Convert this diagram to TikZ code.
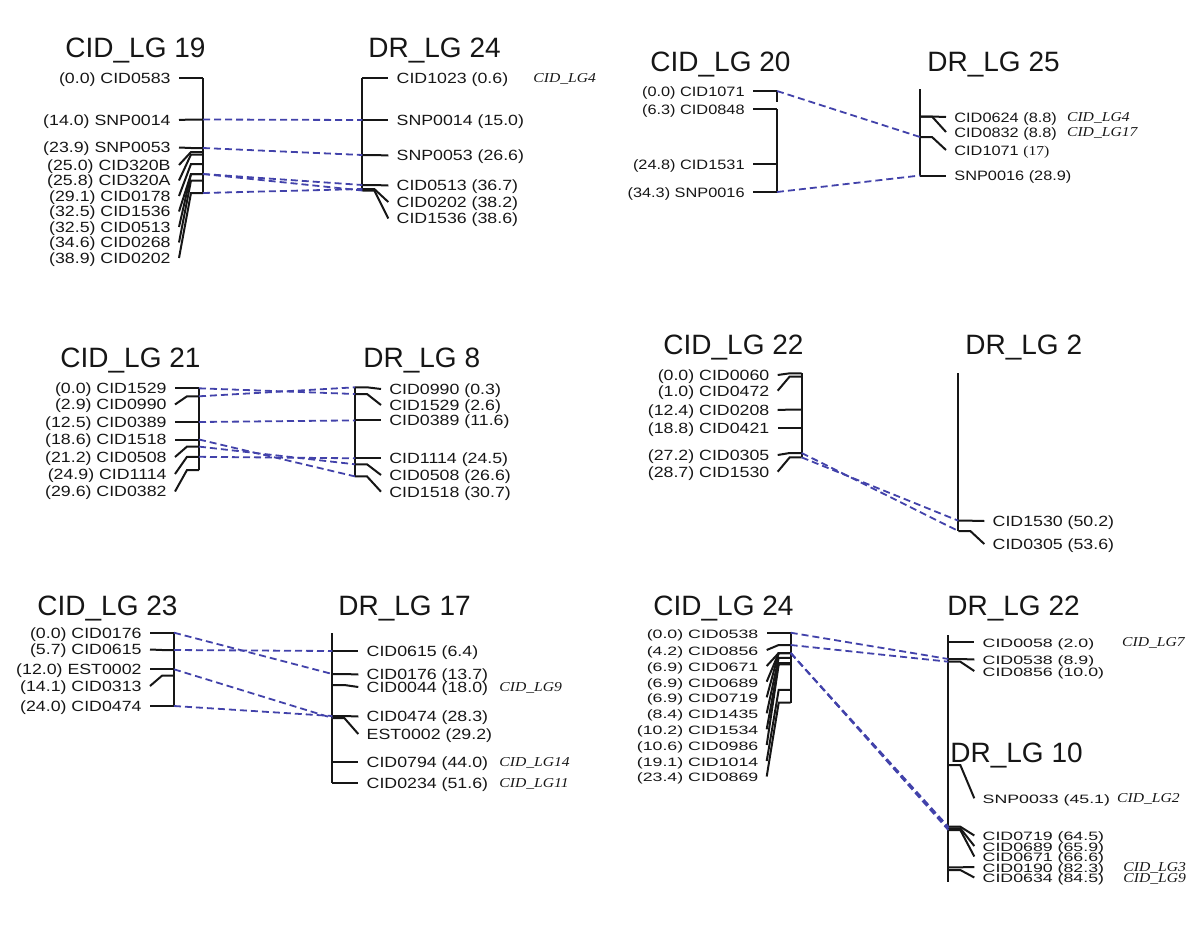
\documentclass[tikz,border=0pt]{standalone}
\usepackage{graphicx}
\usepackage{fontspec}
\setmainfont{Liberation Sans}
\newfontfamily\lblfont{Liberation Sans}[FakeStretch=1.2]
\newfontfamily\notefont{Liberation Serif}[FakeStretch=1.15]
\usetikzlibrary{positioning}
\definecolor{lnkblue}{RGB}{66,66,170}
\definecolor{inkgray}{HTML}{161616}

\tikzset{
  chr/.style={line width=1pt, inkgray},
  lnk/.style={line width=0.9pt, lnkblue, dash pattern=on 3.5pt off 2pt},
  lbl/.style={font=\lblfont\fontsize{7.4}{8}\selectfont, text=inkgray,
    inner xsep=4pt, inner ysep=0pt, text height=5.3pt, text depth=0pt},
  note/.style={font=\notefont\itshape\fontsize{6.8}{8}\selectfont, text=inkgray,
    inner sep=0pt, text height=4.5pt, text depth=0pt, anchor=west},
  ttl/.style={font=\fontsize{14}{16}\selectfont, text=inkgray, inner sep=0pt, anchor=base west}
}

\newcommand\lblbox[1]{#1}
\newcommand\leftmarks[3]{%
  \foreach \m/\p/\t/\l in {#3}{
    \coordinate (#1-\m) at (#2,\t);
    \node[lbl, anchor=east] (#1-\m-n) at ({#2-24},\l) {\lblbox{\p\ \m}};
    \draw[chr] (#1-\m) -- ++(-12,0) -- (#1-\m-n.east);
  }}
\newcommand\rightmarks[3]{%
  \foreach \m/\p/\t/\l in {#3}{
    \coordinate (#1-\m) at (#2,\t);
    \node[lbl, anchor=west] (#1-\m-n) at ({#2+26},\l) {\lblbox{\m\ \p}};
    \draw[chr] (#1-\m) -- ++(12,0) -- (#1-\m-n.west);
  }}

\begin{document}
\begin{tikzpicture}[x=0.5pt, y=-0.5pt]
    \useasboundingbox (0,0) rectangle (1200,932);

    \node[ttl] (t-g19) at (65,57) {CID\_LG 19};
    \node[ttl] (t-d24) at (368,57) {DR\_LG 24};
    \draw[chr] (203,78) -- (203,193);
    \draw[chr] (362.3,77.7) -- (362.3,190.5);
    \leftmarks{g19}{203}{CID0583/(0.0)/78/78, SNP0014/(14.0)/119.5/120,
      SNP0053/(23.9)/148/147.5, CID320B/(25.0)/152/165, CID320A/(25.8)/154.5/180.5,
      CID0178/(29.1)/164/196, CID1536/(32.5)/174/211.5, CID0513/(32.5)/174/227,
      CID0268/(34.6)/180.5/242.5, CID0202/(38.9)/193/258}
    \rightmarks{d24}{362.3}{CID1023/(0.6)/77.7/77.7, SNP0014/(15.0)/120/120,
      SNP0053/(26.6)/155/155.5, CID0513/(36.7)/185/185.5, CID0202/(38.2)/189/202,
      CID1536/(38.6)/190.5/218.5}
    \node[note] (n-d24a) at (533,77.7) {CID\_LG4};
    \foreach \m in {SNP0014,SNP0053,CID0513,CID0202,CID1536}
      \draw[lnk] (g19-\m) -- (d24-\m);

    \begin{scope}[lbl/.append style={font=\lblfont\fontsize{6.8}{8}\selectfont}]
    \node[ttl] (t-g20) at (650,71) {CID\_LG 20};
    \node[ttl] (t-d25) at (927,71) {DR\_LG 25};
    \draw[chr] (777,91) -- (777,102);
    \draw[chr] (777,109) -- (777,192);
    \draw[chr] (920,89) -- (920,175.5);
    \leftmarks{g20}{777}{CID1071/(0.0)/91/91, CID0848/(6.3)/109/109,
      CID1531/(24.8)/164/164, SNP0016/(34.3)/192/192}
    \rightmarks{d25}{920}{CID0624/(8.8)/116.5/117, CID0832/(8.8)/116.5/132,
      CID1071/{\notefont(17)}/137/150, SNP0016/(28.9)/175.5/175.5}
    \node[note] (n-d25a) at (1066.7,117) {CID\_LG4};
    \node[note] (n-d25b) at (1066.7,132) {CID\_LG17};
    \foreach \m in {CID1071,SNP0016}
      \draw[lnk] (g20-\m) -- (d25-\m);
    \end{scope}

    \node[ttl] (t-g21) at (60,367) {CID\_LG 21};
    \node[ttl] (t-d8) at (363,367) {DR\_LG 8};
    \draw[chr] (199,388.3) -- (199,470);
    \draw[chr] (355,386.7) -- (355,476.4);
    \leftmarks{g21}{199}{CID1529/(0.0)/388.3/388.3, CID0990/(2.9)/396.3/404.5,
      CID0389/(12.5)/422/422, CID1518/(18.6)/439.5/439.5, CID0508/(21.2)/446.6/457,
      CID1114/(24.9)/456.8/474, CID0382/(29.6)/470/491.5}
    \rightmarks{d8}{355}{CID0990/(0.3)/387.3/389, CID1529/(2.6)/394/405,
      CID0389/(11.6)/420.4/420.4, CID1114/(24.5)/458.3/458.3,
      CID0508/(26.6)/464.3/475, CID1518/(30.7)/476.4/491.7}
    \foreach \m in {CID1529,CID0990,CID0389,CID1518,CID0508,CID1114}
      \draw[lnk] (g21-\m) -- (d8-\m);

    \node[ttl] (t-g22) at (663,354) {CID\_LG 22};
    \node[ttl] (t-d2) at (965,354) {DR\_LG 2};
    \draw[chr] (801.7,373.3) -- (801.7,457.4);
    \draw[chr] (958.3,373.3) -- (958.3,531);
    \leftmarks{g22}{801.7}{CID0060/(0.0)/373.3/375, CID0472/(1.0)/376.5/390.7,
      CID0208/(12.4)/409.6/410, CID0421/(18.8)/428.3/428.3,
      CID0305/(27.2)/453/455, CID1530/(28.7)/457.4/471.7}
    \rightmarks{d2}{958.3}{CID1530/(50.2)/520.7/521, CID0305/(53.6)/531/544}
    \foreach \m in {CID0305,CID1530}
      \draw[lnk] (g22-\m) -- (d2-\m);

    \node[ttl] (t-g23) at (37,615) {CID\_LG 23};
    \node[ttl] (t-d17) at (338,615) {DR\_LG 17};
    \draw[chr] (174,632.7) -- (174,706);
    \draw[chr] (332.3,633) -- (332.3,783.3);
    \leftmarks{g23}{174}{CID0176/(0.0)/632.7/632.7, CID0615/(5.7)/650/649.5,
      EST0002/(12.0)/669.3/669.3, CID0313/(14.1)/675.7/686, CID0474/(24.0)/706/706}
    \rightmarks{d17}{332.3}{CID0615/(6.4)/651/651, CID0176/(13.7)/674/674.5,
      CID0044/(18.0)/685/687, CID0474/(28.3)/716/716.5, EST0002/(29.2)/718/734,
      CID0794/(44.0)/761.7/761.7, CID0234/(51.6)/783.3/783.3}
    \node[note] (n-d17a) at (499,687) {CID\_LG9};
    \node[note] (n-d17b) at (499,761.7) {CID\_LG14};
    \node[note] (n-d17c) at (499,783.3) {CID\_LG11};
    \foreach \m in {CID0176,CID0615,EST0002,CID0474}
      \draw[lnk] (g23-\m) -- (d17-\m);

    \begin{scope}
    \renewcommand\lblbox[1]{\scalebox{1}[0.82]{#1}}
    \node[ttl] (t-g24) at (653,615) {CID\_LG 24};
    \node[ttl] (t-d22) at (947,615) {DR\_LG 22};
    \node[ttl] (t-d10) at (950,762.5) {DR\_LG 10};
    \draw[chr] (790.7,632.7) -- (790.7,702.7);
    \draw[chr] (948.3,635) -- (948.3,881.7);
    \leftmarks{g24}{790.7}{CID0538/(0.0)/632.7/632.7, CID0856/(4.2)/645/650,
      CID0671/(6.9)/653/666, CID0689/(6.9)/653/681.7, CID0719/(6.9)/653/697.3,
      CID1435/(8.4)/657.8/713.3, CID1534/(10.2)/663.2/729.3,
      CID0986/(10.6)/664.4/745, CID1014/(19.1)/689.8/761, CID0869/(23.4)/702.7/776.5}
    \rightmarks{d22}{948.3}{CID0058/(2.0)/641.7/641.7, CID0538/(8.9)/659/659.5,
      CID0856/(10.0)/661.7/671, SNP0033/(45.1)/765/798.3,
      CID0719/(64.5)/826.7/835.5, CID0689/(65.9)/828.3/846,
      CID0671/(66.6)/830/856.5, CID0190/(82.3)/867.3/867, CID0634/(84.5)/870/877.5}
    \node[note] (n-d22a) at (1121.7,641.7) {CID\_LG7};
    \node[note] (n-d22b) at (1116.7,798.3) {CID\_LG2};
    \node[note] (n-d22c) at (1123,867.3) {CID\_LG3};
    \node[note] (n-d22d) at (1123,878.3) {CID\_LG9};
    \foreach \m in {CID0538,CID0856,CID0671,CID0689,CID0719}
      \draw[lnk] (g24-\m) -- (d22-\m);
    \end{scope}
\end{tikzpicture}
\end{document}
